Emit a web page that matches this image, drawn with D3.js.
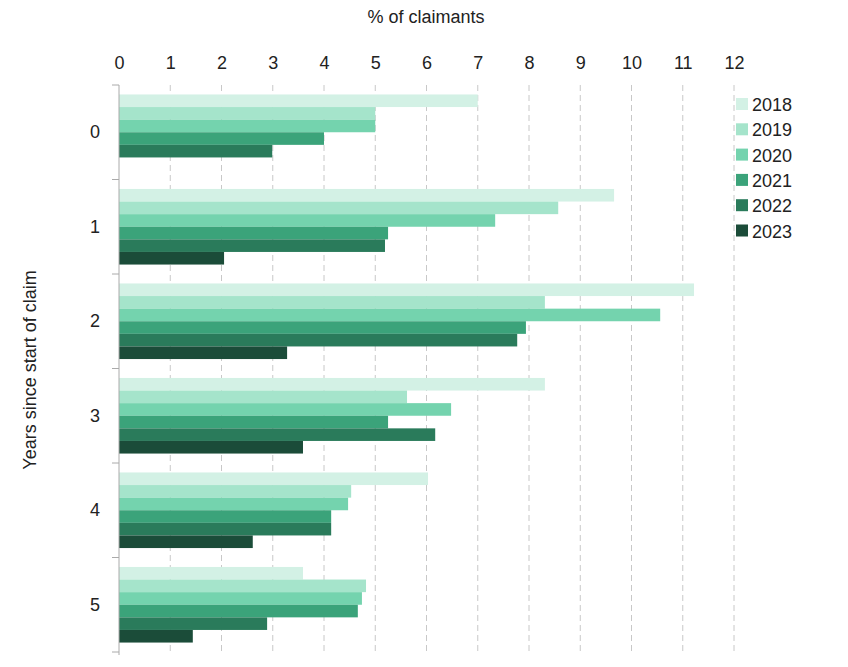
<!DOCTYPE html><html><head><script src="https://cdn.jsdelivr.net/npm/d3@7"></script>
<style>body{margin:0;background:#fff}text{font-family:Arial,"Liberation Sans",sans-serif}</style></head><body>
<svg id="c" width="848" height="667"></svg>
<script>
const categories=["0","1","2","3","4","5"];
const years=["2018","2019","2020","2021","2022","2023"];
const colors=["#d3f1e5","#a5e4cb","#74d3ae","#3ba37a","#2a7b5b","#1b4c39"];
const values={
"2018":[7.0,9.66,11.22,8.31,6.03,3.59],
"2019":[5.0,8.57,8.31,5.62,4.53,4.82],
"2020":[5.0,7.34,10.56,6.48,4.47,4.74],
"2021":[4.0,5.25,7.94,5.25,4.14,4.66],
"2022":[2.99,5.19,7.77,6.17,4.14,2.89],
"2023":[0,2.05,3.28,3.59,2.61,1.44]};
const ticks=d3.range(0,13);
const svg=d3.select("#c");
const x=d3.scaleLinear().domain([0,12]).range([119,734]);
const y=d3.scaleBand().domain(categories).range([85,652]).paddingInner(0.2).paddingOuter(0.1);
const y1=d3.scaleBand().domain(years).range([0,y.bandwidth()]);
svg.append("g").selectAll("line").data(ticks.slice(1)).join("line")
 .attr("x1",d=>x(d)).attr("x2",d=>x(d)).attr("y1",85).attr("y2",655)
 .attr("stroke","#c8c8c8").attr("stroke-dasharray","6,4");
years.forEach((yr,i)=>{
 svg.append("g").selectAll("rect").data(categories).join("rect")
 .attr("x",x(0)).attr("y",(c)=>y(c)+y1(yr)).attr("height",y1.bandwidth())
 .attr("width",(c,j)=>x(values[yr][j])-x(0)).attr("fill",colors[i]);
});
const ax=svg.append("g").attr("transform","translate(0,85)").call(d3.axisTop(x).tickValues(ticks).tickSize(0).tickPadding(16));
ax.select(".domain").remove();
ax.selectAll("text").attr("font-size",18).attr("fill","#222");
svg.append("line").attr("x1",119).attr("x2",119).attr("y1",85).attr("y2",655).attr("stroke","#aaa");
const step=y.step();
svg.append("g").selectAll("line").data(d3.range(0,7)).join("line")
 .attr("x1",112).attr("x2",119).attr("y1",d=>85+d*step).attr("y2",d=>85+d*step).attr("stroke","#aaa");
svg.append("g").selectAll("text").data(categories).join("text")
 .attr("x",95).attr("y",c=>y(c)+y.bandwidth()/2+6).attr("text-anchor","middle").attr("font-size",18).attr("fill","#222").text(d=>d);
svg.append("text").attr("x",426).attr("y",23).attr("text-anchor","middle").attr("font-size",18).attr("fill","#222").text("% of claimants");
svg.append("text").attr("transform","translate(36,370) rotate(-90)").attr("text-anchor","middle").attr("font-size",18).attr("fill","#222").text("Years since start of claim");
const lg=svg.append("g").selectAll("g").data(years).join("g").attr("transform",(d,i)=>`translate(762,${105+i*25.3})`);
lg.append("rect").attr("x",-26).attr("y",-7).attr("width",12).attr("height",12).attr("fill",(d,i)=>colors[i]);
lg.append("text").attr("x",-10).attr("y",6).attr("font-size",18).attr("fill","#222").text(d=>d);
</script></body></html>
